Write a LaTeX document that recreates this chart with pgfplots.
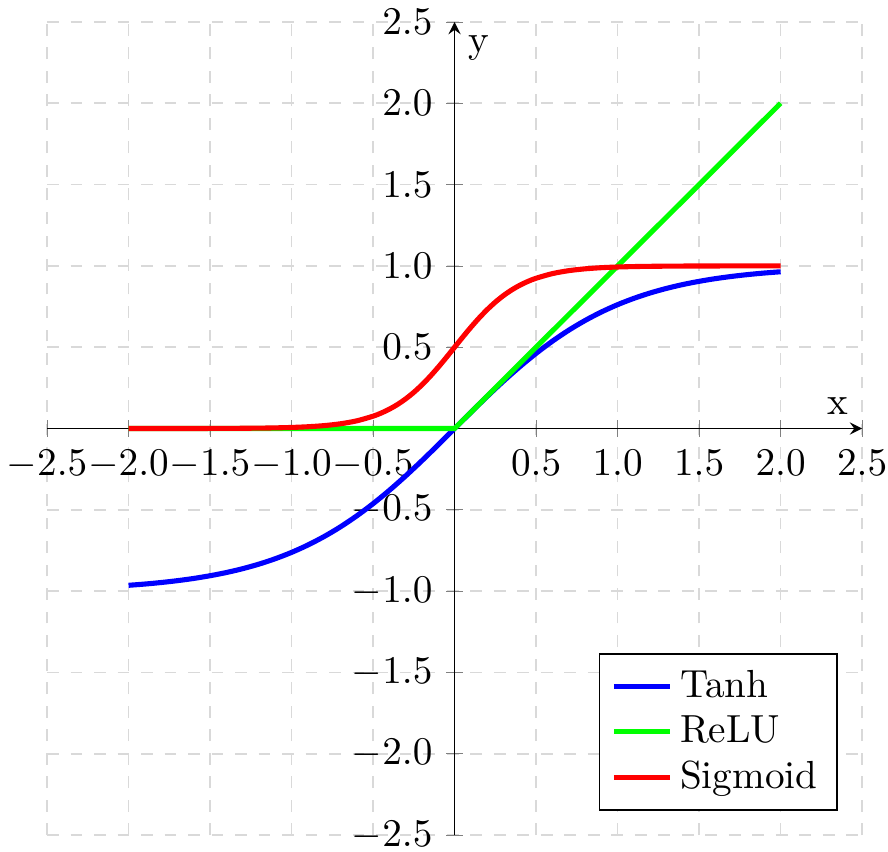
\documentclass[border=0pt]{standalone}
\usepackage{pgfplots}
\pgfplotsset{compat=1.18}
\begin{document}
\begin{tikzpicture}
\begin{axis}[
  scale only axis, width=208pt, height=207.5pt,
  axis lines=middle,
  xmin=-2.5, xmax=2.5, ymin=-2.5, ymax=2.5,
  xtick={-2.5,-2,...,2.5}, ytick={-2.5,-2,...,2.5},
  xticklabel style={/pgf/number format/fixed,/pgf/number format/fixed zerofill,/pgf/number format/precision=1},
  yticklabel style={/pgf/number format/fixed,/pgf/number format/fixed zerofill,/pgf/number format/precision=1},
  grid=major, grid style={dashed, gray!30},
  xlabel={x}, ylabel={y},
  legend pos=south east, legend cell align=left,
  legend style={row sep=-0.8pt},
  legend image code/.code={\draw[#1] (0cm,0cm) -- (0.5cm,0cm);},
]
\addplot[blue, line width=1.3pt, smooth] coordinates {
(-2.0,-0.9640)(-1.9,-0.9562)(-1.8,-0.9468)(-1.7,-0.9354)(-1.6,-0.9217)(-1.5,-0.9051)
(-1.4,-0.8854)(-1.3,-0.8617)(-1.2,-0.8337)(-1.1,-0.8005)(-1.0,-0.7616)(-0.9,-0.7163)
(-0.8,-0.6640)(-0.7,-0.6044)(-0.6,-0.5370)(-0.5,-0.4621)(-0.4,-0.3799)(-0.3,-0.2913)
(-0.2,-0.1974)(-0.1,-0.0997)(0,0)(0.1,0.0997)(0.2,0.1974)(0.3,0.2913)(0.4,0.3799)
(0.5,0.4621)(0.6,0.5370)(0.7,0.6044)(0.8,0.6640)(0.9,0.7163)(1.0,0.7616)(1.1,0.8005)
(1.2,0.8337)(1.3,0.8617)(1.4,0.8854)(1.5,0.9051)(1.6,0.9217)(1.7,0.9354)(1.8,0.9468)
(1.9,0.9562)(2.0,0.9640)};
\addlegendentry{Tanh}
\addplot[green, line width=1.3pt] coordinates {(-2,0)(0,0)(2,2)};
\addlegendentry{ReLU}
\addplot[red, line width=1.3pt, smooth] coordinates {
(-2.0,0.00005)(-1.8,0.00012)(-1.6,0.00034)(-1.4,0.0009)(-1.2,0.0025)(-1.1,0.0041)
(-1.0,0.0067)(-0.9,0.0110)(-0.8,0.0180)(-0.7,0.0293)(-0.6,0.0474)(-0.5,0.0759)
(-0.45,0.0953)(-0.4,0.1192)(-0.35,0.1480)(-0.3,0.1824)(-0.25,0.2227)(-0.2,0.2689)
(-0.15,0.3208)(-0.1,0.3775)(-0.05,0.4378)(0,0.5)(0.05,0.5622)(0.1,0.6225)(0.15,0.6792)
(0.2,0.7311)(0.25,0.7773)(0.3,0.8176)(0.35,0.8520)(0.4,0.8808)(0.45,0.9047)(0.5,0.9241)
(0.6,0.9526)(0.7,0.9707)(0.8,0.9820)(0.9,0.9890)(1.0,0.9933)(1.1,0.9959)(1.2,0.9975)
(1.4,0.9991)(1.6,0.99966)(1.8,0.99988)(2.0,0.99995)};
\addlegendentry{Sigmoid}
\coordinate (bl) at (rel axis cs:0,0);
\coordinate (tr) at (rel axis cs:1,1);
\end{axis}
\pgfresetboundingbox
\path[use as bounding box] ([xshift=-12pt,yshift=-4.1pt]bl) rectangle ([xshift=6.6pt,yshift=5.6pt]tr);
\end{tikzpicture}
\end{document}
